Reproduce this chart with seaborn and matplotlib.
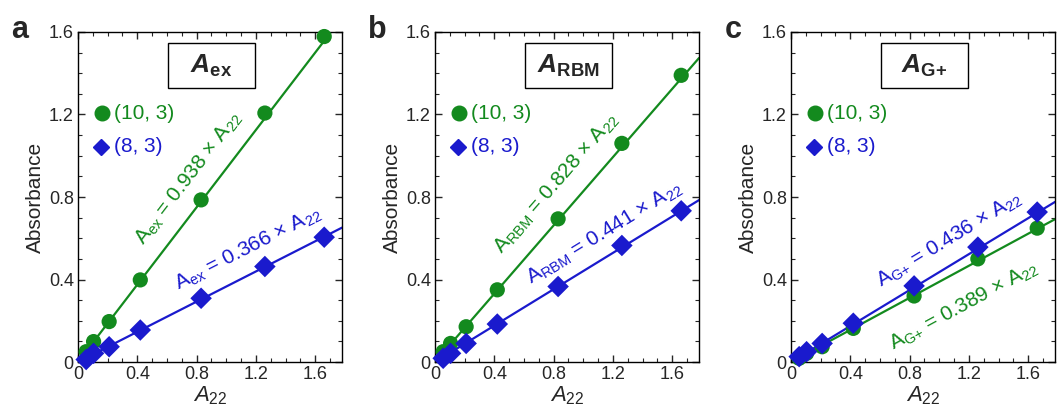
import numpy as np
import pandas as pd
import matplotlib
matplotlib.use("Agg")
import matplotlib.pyplot as plt
import seaborn as sns
from matplotlib.patches import Rectangle
from matplotlib.ticker import MultipleLocator, FuncFormatter

sns.set_style("ticks")
plt.rcParams['font.family'] = ['Liberation Sans', 'DejaVu Sans']
plt.rcParams['mathtext.fontset'] = 'custom'
plt.rcParams['mathtext.rm'] = 'Liberation Sans'
plt.rcParams['mathtext.it'] = 'Liberation Sans:italic'
plt.rcParams['mathtext.bf'] = 'Liberation Sans:bold'
plt.rcParams['mathtext.sf'] = 'Liberation Sans:bold:italic'

# ---- data ----
panel_letters = ["a", "b", "c"]
panel_titles = [r"$\mathsf{A}_{\mathbf{ex}}$", r"$\mathsf{A}_{\mathbf{RBM}}$", r"$\mathsf{A}_{\mathbf{G{+}}}$"]
sub_names = ["ex", "RBM", "G{+}"]
a22 = [0.055, 0.105, 0.21, 0.42, 0.83, 1.26, 1.66]
green_a = [0.05, 0.099, 0.196, 0.398, 0.786, 1.207, 1.578]
blue_a = [0.012, 0.042, 0.074, 0.155, 0.309, 0.463, 0.605]
green_b = [0.05, 0.09, 0.171, 0.35, 0.694, 1.06, 1.39]
blue_b = [0.018, 0.042, 0.09, 0.184, 0.366, 0.565, 0.733]
green_c = [0.018, 0.042, 0.074, 0.163, 0.32, 0.50, 0.649]
blue_c = [0.026, 0.05, 0.09, 0.188, 0.369, 0.557, 0.727]
green_series = [green_a, green_b, green_c]
blue_series = [blue_a, blue_b, blue_c]
green_slopes = [0.938, 0.828, 0.389]
blue_slopes = [0.366, 0.441, 0.436]
# label centre positions (data coords)
green_label_pos = [(0.743, 0.888), (0.817, 0.867), (1.166, 0.273)]
blue_label_pos = [(1.149, 0.549), (1.146, 0.625), (1.07, 0.592)]
series_names = ["(10, 3)", "(8, 3)"]

GREEN = "#138a1e"
BLUE = "#1a1acd"
XMAX = 1.78
YMAX = 1.6


def fmt(v, pos):
    return "0" if abs(v) < 1e-9 else "%.1f" % v


fig = plt.figure(figsize=(10.57, 4.19), dpi=100)
lefts = [78, 435, 791]
axw = 264
for i in range(3):
    ax = fig.add_axes([lefts[i] / 1057, 57 / 419, axw / 1057, 330 / 419])
    df = pd.DataFrame({"x": a22 + a22,
                       "y": green_series[i] + blue_series[i],
                       "s": [series_names[0]] * 7 + [series_names[1]] * 7})
    # fit lines
    xl = np.array([0.0, XMAX])
    for slope, col in [(green_slopes[i], GREEN), (blue_slopes[i], BLUE)]:
        sns.lineplot(x=xl, y=slope * xl, color=col, lw=1.6, ax=ax, zorder=2)
    sns.scatterplot(data=df, x="x", y="y", hue="s", style="s",
                    palette={series_names[0]: GREEN, series_names[1]: BLUE},
                    markers={series_names[0]: "o", series_names[1]: "D"},
                    s=120, linewidth=0, ax=ax, legend=False, zorder=3, clip_on=False)
    ax.set_xlim(0, XMAX)
    ax.set_ylim(0, YMAX)
    ax.xaxis.set_major_locator(MultipleLocator(0.4))
    ax.yaxis.set_major_locator(MultipleLocator(0.4))
    ax.xaxis.set_minor_locator(MultipleLocator(0.1))
    ax.yaxis.set_minor_locator(MultipleLocator(0.1))
    ax.xaxis.set_major_formatter(FuncFormatter(fmt))
    ax.yaxis.set_major_formatter(FuncFormatter(fmt))
    ax.tick_params(which="both", direction="in", top=True, right=True, labelsize=13)
    ax.tick_params(axis="x", pad=3)
    ax.tick_params(axis="y", pad=3)
    ax.tick_params(which="major", length=5, width=1.0)
    ax.tick_params(which="minor", length=3, width=0.8)
    for sp in ax.spines.values():
        sp.set_linewidth(1.0)
        sp.set_color("black")
    ax.set_xlabel(r"$A_{\mathrm{22}}$", fontsize=16, labelpad=1)
    ax.set_ylabel("Absorbance", fontsize=15, labelpad=3)

    # title box
    ax.add_patch(Rectangle((0.34, 0.83), 0.332, 0.137, transform=ax.transAxes,
                           fill=True, facecolor="white", edgecolor="black", lw=1.0, zorder=4))
    ax.text(0.506, 0.897, panel_titles[i], transform=ax.transAxes, ha="center", va="center",
            fontsize=19, zorder=5)

    # legend
    ax.plot([0.092], [0.754], marker="o", ms=10.5, color=GREEN, transform=ax.transAxes, ls="none")
    ax.plot([0.088], [0.652], marker="D", ms=8, color=BLUE, transform=ax.transAxes, ls="none")
    ax.text(0.135, 0.754, series_names[0], transform=ax.transAxes, color=GREEN,
            fontsize=15, va="center", ha="left")
    ax.text(0.135, 0.652, series_names[1], transform=ax.transAxes, color=BLUE,
            fontsize=15, va="center", ha="left")

    # equation labels
    sub = sub_names[i]
    for slope, col, pos in [(green_slopes[i], GREEN, green_label_pos[i]),
                            (blue_slopes[i], BLUE, blue_label_pos[i])]:
        ang = np.degrees(np.arctan(slope))
        txt = r"$\mathrm{A_{%s}}$ = %.3f $\times$ $\mathrm{A_{22}}$" % (sub, slope)
        ax.text(pos[0], pos[1], txt, color=col, fontsize=15, ha="center", va="center",
                rotation=ang, rotation_mode="anchor", transform_rotates_text=True, zorder=4)

    fig.text((lefts[i] - 58) / 1057, 1 - 30 / 419, panel_letters[i], fontsize=22,
             fontweight="bold", ha="center", va="center")

fig.savefig("out.png", dpi=100)
